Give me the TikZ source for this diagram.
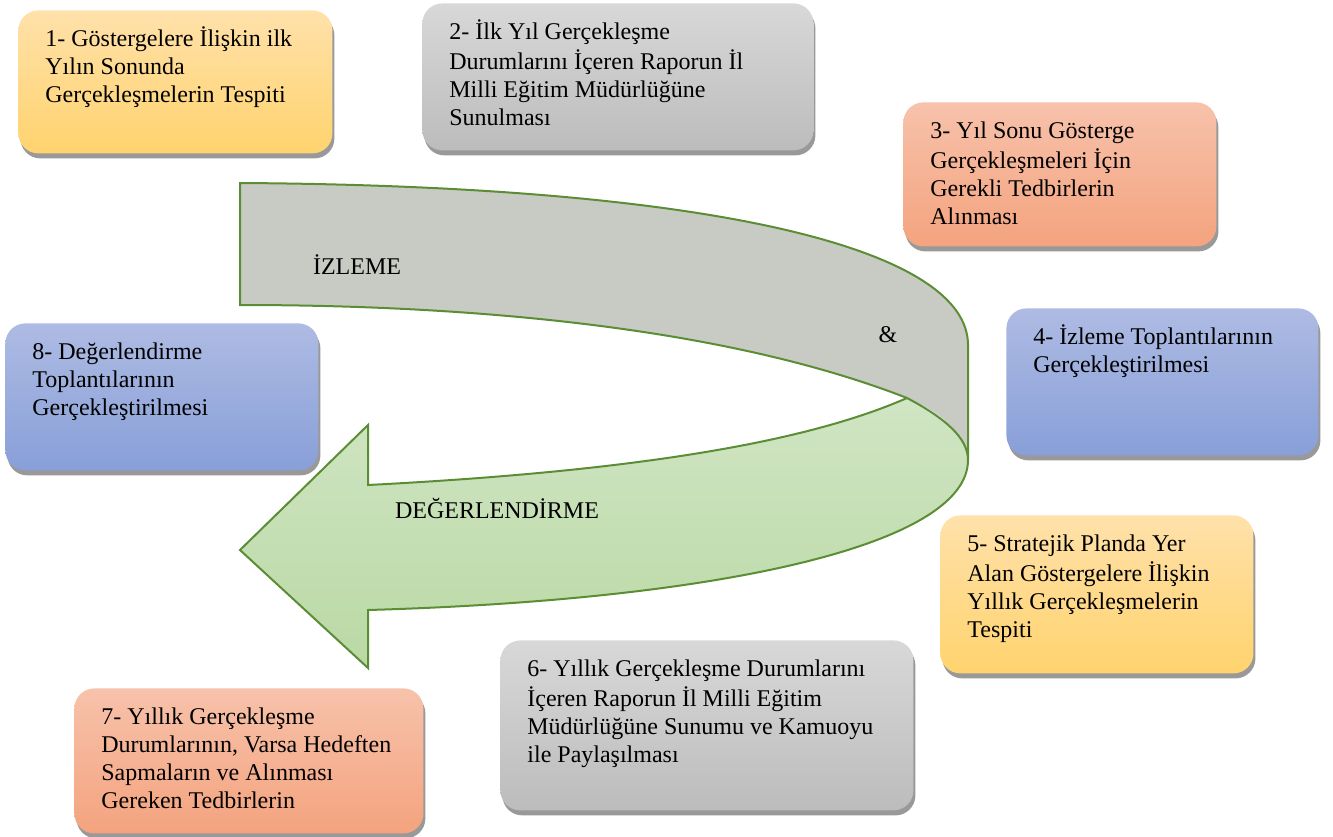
\documentclass[tikz,border=0pt]{standalone}
\usepackage{fontspec}
\setmainfont{Liberation Serif}
\usetikzlibrary{shadows}
\definecolor{sariust}{HTML}{FFE1AA}
\definecolor{sarialt}{HTML}{FFD36E}
\definecolor{griust}{HTML}{D8D8D8}
\definecolor{grialt}{HTML}{BCBCBC}
\definecolor{somonust}{HTML}{F7C2AB}
\definecolor{somonalt}{HTML}{F4A37E}
\definecolor{maviust}{HTML}{AEBBE3}
\definecolor{mavialt}{HTML}{889FD8}
\definecolor{okgri}{HTML}{C8CAC4}
\definecolor{okyesilust}{HTML}{D0E5C4}
\definecolor{okyesilalt}{HTML}{BAD9A4}
\definecolor{okcizgi}{HTML}{5B8D35}
\newcommand{\kutuyazi}[3]{\parbox[t][#2][t]{#1}{\raggedright\strut #3}}

\begin{document}
\begin{tikzpicture}[x=0.5pt, y=-0.5pt, font=\rmfamily\fontsize{12}{14}\selectfont]
        \tikzstyle{kutu}=[anchor=north west, rounded corners=10pt, inner xsep=13.5pt, inner ysep=8pt,
            drop shadow={shadow xshift=1pt, shadow yshift=-2.5pt, fill=black!40, opacity=1}]
        \tikzstyle{sari}=[top color=sariust, bottom color=sarialt]
        \tikzstyle{gri}=[top color=griust, bottom color=grialt]
        \tikzstyle{somon}=[top color=somonust, bottom color=somonalt]
        \tikzstyle{mavi}=[top color=maviust, bottom color=mavialt]
        \tikzstyle{okyazi}=[inner sep=0pt]

        \useasboundingbox (0,0) rectangle (1333,836);

        % Gray band (monitoring)
        \fill[okgri] (240,183) .. controls (720,186) and (968,250) .. (968,345) -- (968,460)
            .. controls (962,430) and (940,412) .. (907,398)
            .. controls (720,325) and (460,305) .. (240,305) -- cycle;
        \draw[okcizgi, line width=1pt] (907,398) .. controls (720,325) and (460,305) .. (240,305) -- (240,183)
            .. controls (720,186) and (968,250) .. (968,345) -- (968,460);

        % Green arrow (evaluation)
        \draw[okcizgi, line width=1pt, top color=okyesilust, bottom color=okyesilalt]
            (907,398) .. controls (945,418) and (968,438) .. (968,460)
            .. controls (968,545) and (720,600) .. (368,610) -- (368,668) -- (240,550) -- (368,425) -- (368,485)
            .. controls (620,472) and (800,445) .. (907,398) -- cycle;

        % Arrow labels
        \node (izleme)[okyazi] at (357,265) {İZLEME};
        \node (ve)[okyazi] at (888,335) {\&};
        \node (degerlendirme)[okyazi] at (497,508) {DEĞERLENDİRME};

        % Boxes
        \node (k1)[kutu, sari] at (18,10) {\kutuyazi{130pt}{55.5pt}{1- Göstergelere İlişkin ilk\\ Yılın Sonunda\\ Gerçekleşmelerin Tespiti}};
        \node (k2)[kutu, gri] at (422,3) {\kutuyazi{168.5pt}{57.5pt}{2- İlk Yıl Gerçekleşme\\ Durumlarını İçeren Raporun İl\\ Milli Eğitim Müdürlüğüne\\ Sunulması}};
        \node (k3)[kutu, somon] at (903,102) {\kutuyazi{129.5pt}{56pt}{3- Yıl Sonu Gösterge\\ Gerçekleşmeleri İçin\\ Gerekli Tedbirlerin\\ Alınması}};
        \node (k4)[kutu, mavi] at (1006,308) {\kutuyazi{129pt}{57.5pt}{4- İzleme Toplantılarının\\ Gerçekleştirilmesi}};
        \node (k5)[kutu, sari] at (940,515) {\kutuyazi{129.5pt}{63pt}{5- Stratejik Planda Yer\\ Alan Göstergelere İlişkin\\ Yıllık Gerçekleşmelerin\\ Tespiti}};
        \node (k6)[kutu, gri] at (500,640) {\kutuyazi{179.5pt}{69pt}{6- Yıllık Gerçekleşme Durumlarını\\ İçeren Raporun İl Milli Eğitim\\ Müdürlüğüne Sunumu ve Kamuoyu\\ ile Paylaşılması}};
        \node (k7)[kutu, somon] at (74,688) {\kutuyazi{147.5pt}{56.5pt}{7- Yıllık Gerçekleşme\\ Durumlarının, Varsa Hedeften\\ Sapmaların ve Alınması\\ Gereken Tedbirlerin}};
        \node (k8)[kutu, mavi] at (5,323) {\kutuyazi{129.5pt}{57.5pt}{8- Değerlendirme\\ Toplantılarının\\ Gerçekleştirilmesi}};
\end{tikzpicture}
\end{document}
